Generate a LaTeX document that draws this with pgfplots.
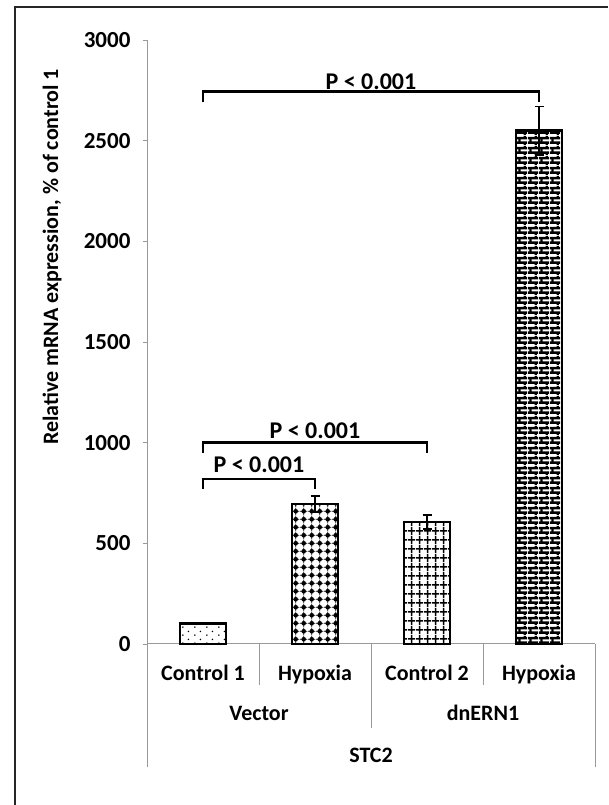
\documentclass[border=0pt]{standalone}
\usepackage{pgfplots}
\pgfplotsset{compat=1.18}
\usepackage{fontspec}
\setmainfont{Carlito}
\usetikzlibrary{patterns.meta}

% bar fills
\pgfdeclarepattern{name=sparsedots, type=uncolored,
  bottom left={\pgfpoint{0pt}{0pt}}, top right={\pgfpoint{12pt}{8pt}},
  tile size={\pgfpoint{12pt}{8pt}},
  code={\pgfpathcircle{\pgfpoint{3pt}{2pt}}{0.9pt}
        \pgfpathcircle{\pgfpoint{9pt}{6pt}}{0.9pt}\pgfusepath{fill}}}
\pgfdeclarepattern{name=bigdots, type=uncolored,
  bottom left={\pgfpoint{0pt}{0pt}}, top right={\pgfpoint{7.7pt}{7.7pt}},
  tile size={\pgfpoint{7.7pt}{7.7pt}},
  code={\pgfsetlinewidth{0.8pt}
        \pgfpathmoveto{\pgfpoint{0pt}{3.85pt}}\pgfpathlineto{\pgfpoint{7.7pt}{3.85pt}}
        \pgfpathmoveto{\pgfpoint{3.85pt}{0pt}}\pgfpathlineto{\pgfpoint{3.85pt}{7.7pt}}
        \pgfusepath{stroke}
        \pgfpathcircle{\pgfpoint{3.85pt}{3.85pt}}{2.4pt}\pgfusepath{fill}}}
\pgfdeclarepattern{name=squaregrid, type=uncolored,
  bottom left={\pgfpoint{0pt}{0pt}}, top right={\pgfpoint{8pt}{9pt}},
  tile size={\pgfpoint{8pt}{9pt}},
  code={\pgfsetlinewidth{1.6pt}
        \pgfpathmoveto{\pgfpoint{0pt}{4.5pt}}\pgfpathlineto{\pgfpoint{8pt}{4.5pt}}
        \pgfpathmoveto{\pgfpoint{4pt}{0pt}}\pgfpathlineto{\pgfpoint{4pt}{9pt}}
        \pgfusepath{stroke}}}
\pgfdeclarepattern{name=brickfill, type=uncolored,
  bottom left={\pgfpoint{0pt}{0pt}}, top right={\pgfpoint{11pt}{10pt}},
  tile size={\pgfpoint{11pt}{10pt}},
  code={\pgfsetlinewidth{2.8pt}
        \pgfpathmoveto{\pgfpoint{0pt}{2.5pt}}\pgfpathlineto{\pgfpoint{11pt}{2.5pt}}
        \pgfpathmoveto{\pgfpoint{0pt}{7.5pt}}\pgfpathlineto{\pgfpoint{11pt}{7.5pt}}
        \pgfusepath{stroke}
        \pgfsetlinewidth{2.4pt}
        \pgfpathmoveto{\pgfpoint{2.75pt}{2.5pt}}\pgfpathlineto{\pgfpoint{2.75pt}{7.5pt}}
        \pgfpathmoveto{\pgfpoint{8.25pt}{7.5pt}}\pgfpathlineto{\pgfpoint{8.25pt}{10pt}}
        \pgfpathmoveto{\pgfpoint{8.25pt}{0pt}}\pgfpathlineto{\pgfpoint{8.25pt}{2.5pt}}
        \pgfusepath{stroke}}}

\newcommand{\lbl}{\bfseries\fontsize{22}{26}\selectfont}
\newcommand{\tck}{\bfseries\fontsize{23}{27}\selectfont}
\newcommand{\pval}{\bfseries\fontsize{24}{28}\selectfont}

\begin{document}
\begin{tikzpicture}
  \useasboundingbox (0pt,0pt) rectangle (608pt,805pt);
  % outer frame
  \draw[line width=1.5pt, black!85] (15pt,0pt) -- (15pt,798pt) -- (608pt,798pt);

  \begin{axis}[
    at={(147pt,161pt)}, anchor=south west,
    scale only axis, width=448pt, height=604pt,
    xmin=-0.5, xmax=3.5, ymin=0, ymax=3000,
    clip=false,
    axis lines*=left,
    axis line style={draw=black!40, line width=1pt},
    ytick={0,500,...,3000},
    tick align=outside, major tick length=4pt,
    y tick style={draw=black!40, line width=0.8pt},
    xtick={0,1,2,3},
    xticklabels={Control 1,Hypoxia,Control 2,Hypoxia},
    x tick style={draw=none},
    xticklabel style={anchor=center, text height=15pt, text depth=5pt, yshift=-28pt, font=\lbl},
    yticklabel style={xshift=-9pt, font=\tck},
    /pgf/number format/assume math mode=true,
    /pgf/number format/1000 sep={},
    ylabel={Relative mRNA expression, \% of control 1},
    ylabel style={at={(rel axis cs:-0.212,0.641)}, anchor=center, font=\lbl},
    bar width=46pt,
    error bars/error bar style={line width=1.5pt, draw=black},
    error bars/error mark options={rotate=90, mark size=4.5pt, line width=1.5pt, draw=black},
  ]
    % bars
    \addplot[ybar, bar shift=0pt, draw=black, line width=2.8pt, pattern=sparsedots]
      coordinates {(0,100)};
    \addplot[ybar, bar shift=0pt, draw=black, line width=2.5pt, pattern=bigdots,
      error bars/.cd, y dir=both, y explicit]
      coordinates {(1,695) +- (0,40)};
    \addplot[ybar, bar shift=0pt, draw=black, line width=2.5pt, pattern=squaregrid,
      error bars/.cd, y dir=both, y explicit]
      coordinates {(2,605) +- (0,35)};
    \addplot[ybar, bar shift=0pt, draw=black, line width=2.5pt, pattern=brickfill,
      error bars/.cd, y dir=both, y explicit]
      coordinates {(3,2550) +- (0,120)};

    % significance brackets
    \addplot[black, line width=2.5pt, mark=none] coordinates {(0,2690) (0,2745) (3,2745) (3,2690)};
    \addplot[black, line width=2.5pt, mark=none] coordinates {(0,950) (0,1000) (2,1000) (2,950)};
    \addplot[black, line width=2.5pt, mark=none] coordinates {(0,770) (0,820) (1,820) (1,770)};
    \node[font=\pval] at (axis cs:1.5,2795) {P < 0.001};
    \node[font=\pval] at (axis cs:1,1058) {P < 0.001};
    \node[font=\pval] at (axis cs:0.5,889) {P < 0.001};

    % category table lines
    \draw[black!40, line width=1pt] (axis cs:0.5,0) -- ++(0pt,-41pt);
    \draw[black!40, line width=1pt] (axis cs:2.5,0) -- ++(0pt,-41pt);
    \draw[black!40, line width=1pt] (axis cs:1.5,0) -- ++(0pt,-84pt);
    \draw[black!40, line width=1pt] (axis cs:-0.5,0) -- ++(0pt,-123pt);
    \draw[black!40, line width=1pt] (axis cs:3.5,0) -- ++(0pt,-123pt);
    \node[font=\lbl, text height=15pt, text depth=5pt] at ([yshift=-71pt]axis cs:0.5,0) {Vector};
    \node[font=\lbl, text height=15pt, text depth=5pt] at ([yshift=-71pt]axis cs:2.5,0) {dnERN1};
    \node[font=\lbl, text height=15pt, text depth=5pt] at ([yshift=-113pt]axis cs:1.5,0) {STC2};
  \end{axis}
\end{tikzpicture}
\end{document}
